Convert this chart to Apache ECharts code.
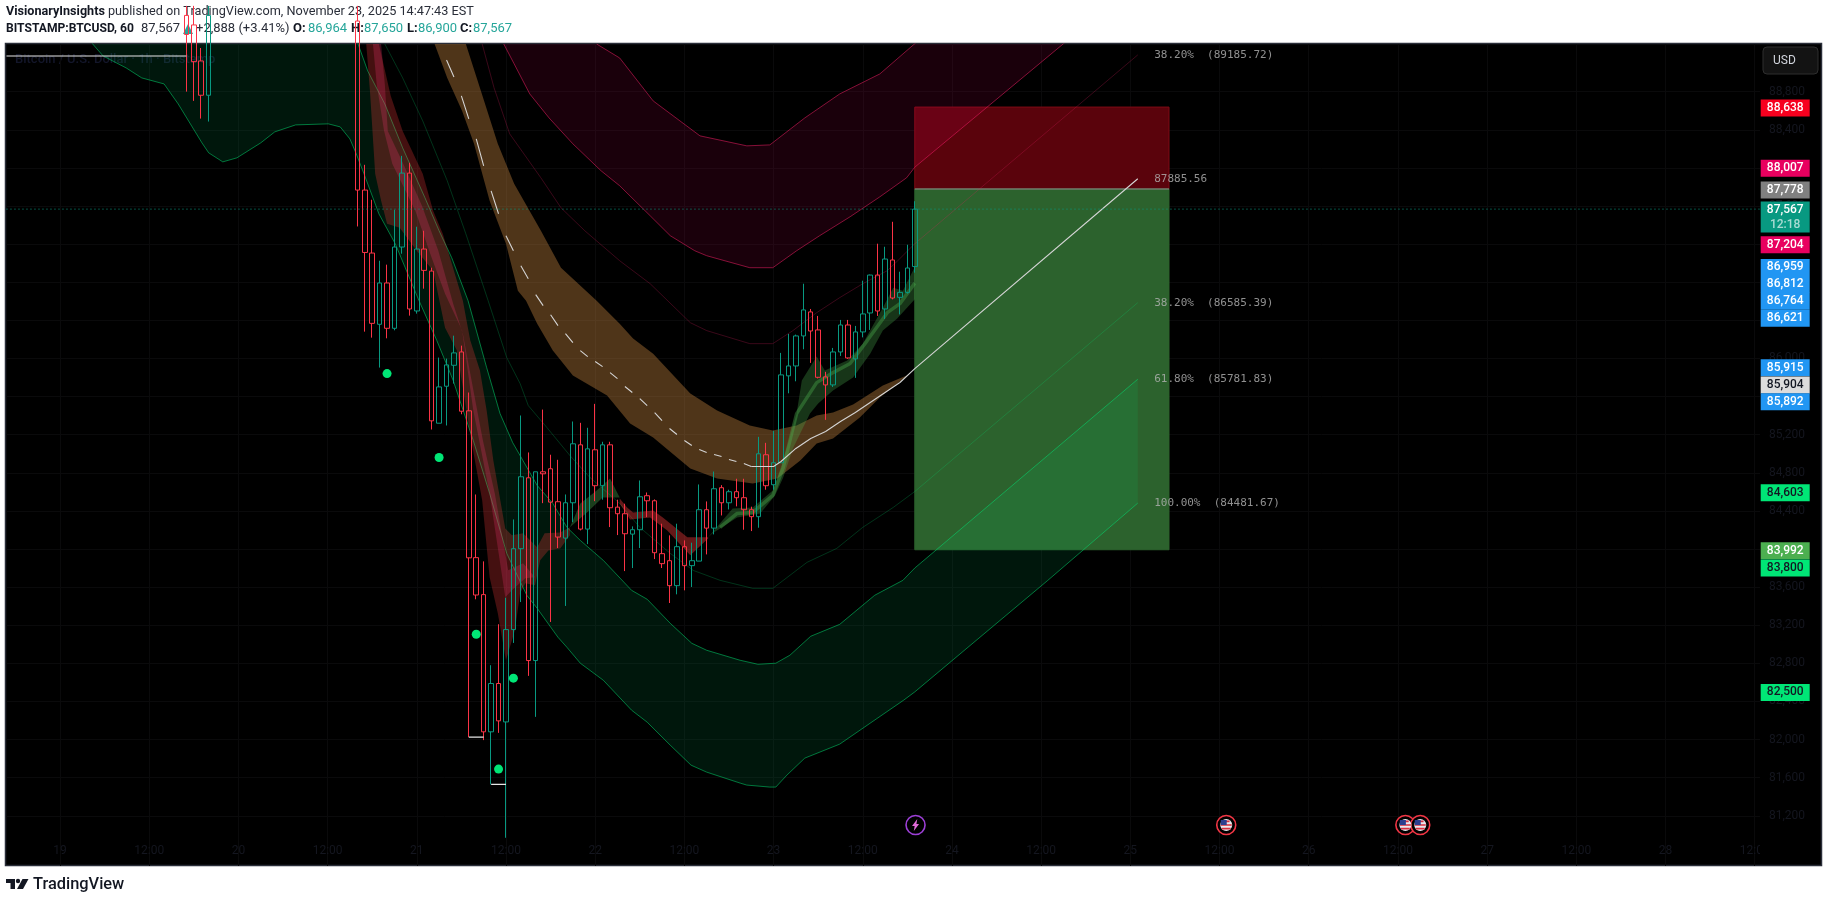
<!DOCTYPE html>
<html>
<head>
<meta charset="utf-8">
<title>BTCUSD</title>
<script src="https://cdn.jsdelivr.net/npm/echarts@6/dist/echarts.min.js"></script>
<style>
	html, body { margin: 0; padding: 0; background: #fff; }
	#main { width: 1829px; height: 903px; }
</style>
</head>
<body>
<div id="main"></div>
<script type="text/javascript">
// hours counted from Nov 19 00:00, one candle per hour
var xTickHours = [0, 12, 24, 36, 48, 60, 72, 84, 96, 108, 120, 132, 144, 156, 168, 180, 192, 204, 216, 228];
var xTickLabels = ['19', '12:00', '20', '12:00', '21', '12:00', '22', '12:00', '23', '12:00', '24', '12:00', '25', '12:00', '26', '12:00', '27', '12:00', '28', '12:00'];
var yTicks = [81200, 81600, 82000, 82400, 82800, 83200, 83600, 84000, 84400, 84800, 85200, 85600, 86000, 86400, 86800, 87200, 87600, 88000, 88400, 88800];

// hour, open, close, low, high
var candles = [
	[17, 89600, 89400, 88800, 89700], [18, 89500, 89115, 88703, 89700], [19, 89122, 88762, 88517, 89258], [20, 88762, 89600, 88486, 89700],
	[40, 89541, 87767, 87385, 89700], [41, 87767, 87112, 86281, 88032], [42, 87106, 86368, 86218, 87665], [43, 86358, 86792, 85904, 87025],
	[44, 86792, 86316, 86211, 86984], [45, 86316, 87169, 86295, 87560], [46, 87169, 87945, 87099, 88126], [47, 87945, 86519, 86449, 88053],
	[48, 86498, 87148, 86470, 87382], [49, 87148, 86924, 86732, 87340], [50, 86917, 85345, 85254, 86952], [51, 85320, 85701, 85320, 86009],
	[52, 85708, 85932, 85296, 85998], [53, 85928, 86058, 85736, 86239], [54, 86068, 85446, 85414, 86134], [55, 85450, 83907, 82025, 85642],
	[56, 83909, 83517, 83472, 84572], [57, 83521, 82081, 81994, 83870], [58, 82081, 82588, 81529, 82780], [59, 82588, 82196, 82070, 83210],
	[60, 82185, 83154, 80969, 83489], [61, 83154, 84003, 83014, 84310], [62, 84003, 84758, 83443, 85401], [63, 84747, 82829, 82668, 85013],
	[64, 82829, 84810, 82238, 84810], [65, 84810, 84789, 84481, 85463], [66, 84842, 84492, 83234, 84989], [67, 84496, 84125, 84010, 84936],
	[68, 84114, 84485, 83402, 84572], [69, 84485, 85104, 84282, 85338], [70, 85093, 84209, 84195, 85324], [71, 84209, 85051, 84051, 85272],
	[72, 85041, 84664, 84502, 85523], [73, 84664, 85093, 84517, 85125], [74, 85093, 84433, 84230, 85125], [75, 84439, 84370, 84146, 84517],
	[76, 84370, 84160, 83768, 84475], [77, 84156, 84202, 83800, 84237], [78, 84202, 84548, 84010, 84719], [79, 84559, 84506, 84334, 84593],
	[80, 84506, 83961, 83894, 84520], [81, 83951, 83846, 83800, 84265], [82, 83877, 83615, 83433, 84143], [83, 83615, 84024, 83524, 84265],
	[84, 84024, 83825, 83566, 84090], [85, 83825, 83877, 83601, 84066], [86, 83873, 84412, 83873, 84677], [87, 84412, 84219, 83943, 84499],
	[88, 84219, 84632, 84153, 84813], [89, 84643, 84485, 84352, 84670], [90, 84485, 84601, 84415, 84622], [91, 84601, 84538, 84447, 84737],
	[92, 84538, 84412, 84202, 84737], [93, 84412, 84339, 84188, 84444], [94, 84339, 84999, 84223, 85177], [95, 84989, 84664, 84622, 85114],
	[96, 84674, 84905, 84622, 85240], [97, 84905, 85827, 84905, 86058], [98, 85817, 85921, 85634, 86257], [99, 85921, 86236, 85760, 86250],
	[100, 86236, 86509, 86096, 86784], [101, 86488, 86288, 85953, 86519], [102, 86299, 85802, 85790, 86446], [103, 85806, 85722, 85355, 85859],
	[104, 85722, 86068, 85700, 86110], [105, 86068, 86351, 86026, 86404], [106, 86351, 86005, 85995, 86404], [107, 85995, 86278, 85796, 86341],
	[108, 86278, 86467, 86221, 86816], [109, 86477, 86875, 86299, 86880], [110, 86875, 86498, 86446, 87204], [111, 86519, 87043, 86414, 87172],
	[112, 87033, 86634, 86620, 87434], [113, 86641, 86693, 86462, 86910], [114, 86693, 86949, 86680, 87193], [115, 86964, 87567, 86900, 87650]
];

// lower (green) envelope
var greenOuter = [[3.4, 89436], [4.4, 89300], [5.8, 89174], [8.9, 89049], [11, 88944], [14, 88881], [15.9, 88671], [19.1, 88262], [20, 88158], [21.9, 88063], [23.8, 88105], [27, 88262], [28.9, 88378], [31.7, 88451], [36.1, 88462], [37.7, 88430], [39, 88304], [39.8, 88158], [40.9, 87937], [42.9, 87518], [45.1, 87204], [48.3, 86606], [50.7, 86187], [52.9, 85767], [55.6, 85138], [57.8, 84583], [60.1, 83954], [62.8, 83514], [64.2, 83377], [67, 83073], [68.2, 82968], [70, 82801], [73.1, 82622], [76.9, 82308], [79, 82182], [82.1, 81941], [84.9, 81731], [87, 81658], [91.5, 81543], [92.4, 81522], [95.5, 81501], [96.3, 81501], [97.8, 81627], [100.2, 81805], [104.9, 81952], [113.5, 82413], [115, 82500], [132.9, 83671], [145, 84481.67]];
var greenInner = [[39.3, 89489], [40.1, 89300], [41.4, 89017], [43.7, 88671], [46.1, 88210], [49.1, 87686], [51, 87340], [52.7, 87057], [54.9, 86606], [57.4, 85904], [59.2, 85421], [60.9, 85117], [64.2, 84667], [66.3, 84478], [68.2, 84227], [70, 84090], [73.1, 83880], [76.9, 83566], [79, 83472], [82.1, 83220], [85, 83010], [87, 82937], [91.5, 82832], [93.9, 82790], [96.3, 82801], [98.2, 82885], [101, 83084], [104.9, 83209], [109.6, 83514], [113.4, 83671], [115, 83800], [145, 85781.83]];
var greenMid = [[43.7, 89300], [46.1, 88944], [48.8, 88493], [52.1, 87864], [54.6, 87308], [57.6, 86606], [60.1, 86009], [61.9, 85736], [63, 85505], [65.5, 85275], [68.6, 84981], [71.3, 84750], [75.3, 84478], [78, 84227], [82.1, 83954], [85.2, 83775], [88.8, 83671], [93.2, 83587], [95.9, 83587], [100.5, 83860], [104.5, 84006], [108, 84227], [112.1, 84436], [115, 84603], [145, 86585.39]];

// upper (red) envelope
var redInner = [[59.7, 89300], [61.1, 89091], [63.2, 88776], [65.8, 88524], [69, 88252], [72.8, 87969], [75.3, 87812], [79.4, 87497], [82.1, 87288], [85.4, 87130], [87, 87078], [92.8, 86952], [95.9, 86952], [99.1, 87130], [102.2, 87288], [106.3, 87487], [110.3, 87696], [113.9, 87896], [115, 88007], [134.8, 89290], [145, 89971]];
var redOuter = [[72.2, 89300], [75.3, 89153], [79.8, 88703], [86.1, 88336], [92.4, 88231], [95.5, 88241], [100.2, 88524], [104.9, 88776], [110.3, 88986], [114.8, 89290], [117, 89436]];
var redMid = [[56.8, 89300], [58.4, 88839], [60.5, 88357], [64.7, 87895], [67.4, 87581], [70.6, 87340], [75.3, 87025], [79.4, 86784], [84.8, 86375], [87, 86292], [92.8, 86155], [95.9, 86155], [98.6, 86292], [101.8, 86480], [104.9, 86638], [108, 86784], [111.3, 86921], [112.7, 87025], [115, 87204], [145, 89185.72]];

// middle (brown) cloud
var brownUpper = [[54.6, 89300], [56.5, 88839], [58.9, 88252], [61.1, 87833], [64.7, 87340], [67.4, 86952], [72.2, 86606], [75.3, 86365], [77.1, 86208], [79.8, 86050], [84.8, 85631], [88.4, 85453], [92.8, 85296], [95.9, 85243], [99.1, 85296], [101.8, 85401], [104, 85432], [106.7, 85516], [110.7, 85715], [113.9, 85820]];
var brownLower = [[50.4, 89300], [52.1, 88944], [54.1, 88598], [55.7, 88252], [57.8, 87654], [60, 87204], [61.6, 86711], [62.7, 86606], [64.2, 86365], [66.3, 86082], [69, 85820], [73.6, 85610], [76.7, 85317], [79.8, 85170], [84.8, 84845], [88.4, 84740], [93.2, 84688], [96.5, 84740], [99.6, 84929], [101.8, 85107], [104, 85160], [107.6, 85380], [110.3, 85589], [114, 85820]];

// ribbons around the price
var ribbonUp = [[42.9, 89300], [44.5, 88755], [46.1, 88388], [48.8, 87937], [50.2, 87550], [51.5, 87308], [53.4, 86816], [54.2, 86606], [55.2, 86187], [56.5, 85872], [57.4, 85453], [58.3, 84929], [59.9, 84216], [60.8, 84143], [62.3, 84164], [64.2, 84017], [65.2, 84164], [67.3, 84174], [68.6, 84227]];
var ribbonLow = [[41.2, 89300], [41.7, 88808], [42.4, 87937], [43.2, 87654], [44, 87413], [45.7, 87371], [48, 87130], [50.2, 86921], [51.8, 86323], [53.4, 86082], [55.4, 85107], [56.8, 84509], [57.8, 83702], [58.9, 83325], [60, 82832], [61.2, 83147], [61.9, 83535], [62.6, 83640], [63.9, 83618], [64.6, 83881], [65.7, 83985], [67.3, 84006], [68.6, 84143]];
var pinkUp = [[43.2, 89300], [43.7, 88881], [44.1, 88388], [46, 88074], [48.7, 87602], [50.9, 87130], [52.9, 86575], [54.2, 86260], [55.8, 85589], [56.9, 85138], [58.5, 84583], [60.3, 83776], [62.3, 83849], [63.9, 83702]];
var pinkLow = [[42.1, 89300], [42.6, 88881], [43.6, 88388], [44.7, 88042], [47.8, 87550], [50, 87057], [51.8, 86679], [54.1, 86292], [55.6, 85453], [57.8, 84583], [59.9, 83493], [60.8, 83566], [62.6, 83692], [63.9, 83702]];
var humpUp = [[68.6, 84227], [70, 84478], [72.2, 84614], [74, 84740], [75.3, 84541]];
var humpLow = [[68.6, 84227], [70.9, 84384], [73, 84541], [74.9, 84541], [75.3, 84541]];
var redTailUp = [[75.3, 84530], [76.3, 84436], [77.1, 84384], [79.8, 84405], [81.1, 84331], [84.4, 84122], [87.2, 84122]];
var redTailLow = [[75.3, 84478], [76.7, 84310], [79.4, 84331], [81.7, 84195], [84.8, 83933], [87.2, 84111]];
var greenRibbonUp = [[87.2, 84122], [90.5, 84426], [93.2, 84436], [95.9, 84614], [97.3, 84929], [99.1, 85421], [99.8, 85767], [101.8, 86019], [102.9, 85872], [105.9, 85977], [108, 86155], [110.7, 86533], [112.1, 86742], [113.4, 86711], [115, 86959]];
var greenRibbonLow = [[87.2, 84122], [87.8, 84164], [91.1, 84331], [94.2, 84373], [96.2, 84562], [97.3, 84751], [98.6, 85055], [100.9, 85421], [102, 85526], [104, 85663], [106.7, 85799], [109, 86050], [110.7, 86292], [112.6, 86417], [115, 86621]];
var greenRibbonMid = [[88.8, 84227], [91.1, 84373], [93.2, 84384], [95.9, 84562], [97.3, 84855], [99.1, 85421], [101.8, 85746], [104, 85851], [106.3, 85946], [108.6, 86187], [111.3, 86480], [113, 86575], [115, 86790]];

// centre line: dashed part has one reading per bar, then it goes solid
var midDashed = [[52, 89133], [53, 88954], [54, 88755], [55, 88514], [56, 88304], [57, 88021], [58, 87759], [59, 87518], [60, 87287], [61, 87130], [62, 86973], [63, 86837], [64, 86669], [65, 86554], [66, 86459], [67, 86344], [68, 86260], [69, 86166], [70, 86082], [71, 86019], [72, 85967], [73, 85914], [74, 85851], [75, 85788], [76, 85705], [77, 85642], [78, 85579], [79, 85505], [80, 85432], [81, 85348], [82, 85264], [83, 85201], [84, 85138], [85, 85086], [86, 85044], [87, 85013], [88, 84992], [89, 84971], [90, 84939], [91, 84918], [92, 84897], [93, 84866]];
var midSolid = [[93, 84866], [96, 84866], [97, 84918], [99, 85055], [101, 85160], [103, 85233], [105, 85338], [107, 85432], [109, 85537], [111, 85642], [113, 85747], [115, 85893], [145, 87885.56]];

// position box
var boxHours = [115, 149.2];
var boxStop = 88638;
var boxEntry = 87778;
var boxTarget = 83992;

var lastPrice = 87567;
var lowMarks = [[[-7.2, 89174], [17, 89174]], [[55, 82025], [57, 82025]], [[58, 81529], [60, 81529]]];
var dots = [[44, 85841], [51, 84960], [56, 83105], [61, 82644], [59, 81690]];
var flagHours = [156.9, 181, 183];
var boltHour = 115.1;
var eventPrice = 81103;

var fibHour = 147.2;
var fibLabels = [
	[89185.72, '38.20%  (89185.72)'],
	[87885.56, '87885.56'],
	[86585.39, '38.20%  (86585.39)'],
	[85781.83, '61.80%  (85781.83)'],
	[84481.67, '100.00%  (84481.67)']
];

// tags on the price scale: shown position, text, background, text colour
var tagHour = 232.1;
var tagPositions = [88629, 87997, 87767, 87193, 86955, 86777, 86599, 86421, 85901, 85722, 85544, 84590, 83982, 83800, 82494];
var tagTexts = ['88,638', '88,007', '87,778', '87,204', '86,959', '86,812', '86,764', '86,621', '85,915', '85,904', '85,892', '84,603', '83,992', '83,800', '82,500'];
var tagColors = ['#f7001f', '#e8005f', '#808080', '#e8005f', '#2196f3', '#2196f3', '#2196f3', '#2196f3', '#2196f3', '#dcdcdc', '#2196f3', '#00e676', '#4caf50', '#00e676', '#00e676'];
var tagTextColors = ['#fff', '#fff', '#fff', '#fff', '#fff', '#fff', '#fff', '#fff', '#fff', '#131722', '#fff', '#131722', '#fff', '#131722', '#131722'];

var FONT = 'Roboto, "Noto Sans", sans-serif';
var TEAL = '#089981';
var RED = '#fb3346';

function polySeries(edgeA, edgeB, fill, stroke, z) {
	return {
		type: 'custom', z: z, clip: true, silent: true, data: [[0, 85000]],
		encode: { x: 0, y: 1 },
		renderItem: function (params, api) {
			var pts = edgeA.concat(edgeB.slice().reverse()).map(function (p) { return api.coord(p); });
			return { type: 'polygon', shape: { points: pts }, style: { fill: fill, stroke: stroke || 'none', lineWidth: 1 } };
		}
	};
}

function lineSeries(data, color, width, z, type) {
	return {
		type: 'line', data: data, z: z, silent: true, showSymbol: false, symbol: 'none', animation: false,
		lineStyle: { color: color, width: width, type: type || 'solid' }
	};
}

// one dash per bar, skipping the next bar
var midDashes = [];
for (var i = 0; i + 1 < midDashed.length; i += 2) {
	midDashes.push(midDashed[i], midDashed[i + 1], [midDashed[i][0] + 1.5, '-']);
}

var tagData = tagTexts.map(function (t, i) {
	return {
		value: [tagHour, tagPositions[i]],
		itemStyle: { color: tagColors[i], opacity: 1 },
		label: { formatter: t, color: tagTextColors[i] }
	};
});
// the last price tag is taller because it also holds the countdown
tagData.push({
	value: [tagHour, 87483],
	symbolSize: [49, 31],
	itemStyle: { color: TEAL, opacity: 1 },
	label: {
		formatter: '{a|87,567}\n{b|12:18}',
		rich: {
			a: { color: '#fff', fontFamily: FONT, fontSize: 12, fontWeight: 500, lineHeight: 15 },
			b: { color: 'rgba(255,255,255,0.65)', fontFamily: FONT, fontSize: 12, fontWeight: 500, lineHeight: 15 }
		}
	}
});

var flagPoints = flagHours.map(function (h) { return [h, eventPrice]; });

var series = [
	// the box sits under everything else
	polySeries([[boxHours[0], boxStop], [boxHours[1], boxStop]], [[boxHours[0], boxEntry], [boxHours[1], boxEntry]], '#5a030c', '#7e0a14', 2),
	polySeries([[boxHours[0], boxEntry], [boxHours[1], boxEntry]], [[boxHours[0], boxTarget], [boxHours[1], boxTarget]], '#2c622d', '#2c622d', 2),
	lineSeries([[boxHours[0], boxEntry], [boxHours[1], boxEntry]], '#8c8c8c', 1, 3),

	polySeries(redInner, redOuter, 'rgba(233,0,99,0.11)', null, 4),
	polySeries(greenOuter, greenInner, 'rgba(0,230,118,0.1)', null, 4),
	polySeries(brownUpper, brownLower, 'rgba(255,171,80,0.31)', null, 5),

	lineSeries(redInner, 'rgba(233,30,99,0.55)', 1, 6),
	lineSeries(redOuter, 'rgba(233,30,99,0.55)', 1, 6),
	lineSeries(redMid, 'rgba(233,30,99,0.25)', 1, 6),
	lineSeries(greenOuter, 'rgba(0,230,118,0.5)', 1, 6),
	lineSeries(greenInner, 'rgba(0,230,118,0.5)', 1, 6),
	lineSeries(greenMid, 'rgba(0,230,118,0.22)', 1, 6),

	polySeries(ribbonUp, ribbonLow, 'rgba(250,60,60,0.27)', null, 7),
	polySeries(pinkUp, pinkLow, 'rgba(240,50,110,0.25)', null, 8),
	polySeries(redTailUp, redTailLow, 'rgba(250,60,60,0.4)', null, 7),
	polySeries(humpUp, humpLow, 'rgba(76,175,80,0.35)', null, 7),
	polySeries(greenRibbonUp, greenRibbonLow, 'rgba(76,175,80,0.3)', null, 7),
	lineSeries(greenRibbonMid, 'rgba(76,175,80,0.38)', 3.5, 8),

	{
		type: 'candlestick', z: 10, silent: true, clip: true, animation: false, barWidth: 5,
		data: candles,
		encode: { x: 0, y: [1, 2, 3, 4] },
		itemStyle: { color: 'transparent', color0: 'transparent', borderColor: TEAL, borderColor0: RED, borderWidth: 1 }
	},

	lineSeries(lowMarks[0], '#e6e6e6', 1.2, 11),
	lineSeries(lowMarks[1], '#e6e6e6', 1.2, 11),
	lineSeries(lowMarks[2], '#e6e6e6', 1.2, 11),
	lineSeries(midDashes, '#d4d4d4', 1.1, 12),
	lineSeries(midSolid, '#d4d4d4', 1.1, 12),
	lineSeries([[-7.2, lastPrice], [228.7, lastPrice]], TEAL, 1, 12, [1, 3]),

	{
		type: 'scatter', z: 13, silent: true, symbolSize: 9, data: dots,
		itemStyle: { color: '#00e676', opacity: 1 }
	},
	{
		type: 'scatter', z: 13, silent: true, symbolSize: 0,
		data: fibLabels.map(function (f) { return [fibHour, f[0], f[1]]; }),
		label: {
			show: true, position: 'right', distance: 0,
			fontFamily: '"DejaVu Sans Mono", monospace', fontSize: 11, color: '#b4b4b4',
			formatter: function (p) { return p.value[2]; }
		},
		labelLayout: { hideOverlap: false }
	},

	// calendar markers along the bottom: ring, white disc, stripes, canton
	{
		type: 'scatter', z: 13, silent: true, symbolSize: 19, data: flagPoints,
		itemStyle: { color: '#000', borderColor: '#f23645', borderWidth: 1.6, opacity: 1 }
	},
	{
		type: 'scatter', z: 14, silent: true, symbolSize: 12, data: flagPoints,
		itemStyle: { color: '#e8e8ee', opacity: 1 }
	},
	{
		type: 'scatter', z: 15, silent: true, symbolSize: [11, 9],
		symbol: 'path://M3 0 H9 V1.6 H3 Z M1 3.6 H11 V5.2 H1 Z M2 7.2 H10 V8.8 H2 Z',
		symbolKeepAspect: false, data: flagPoints,
		itemStyle: { color: '#d8303f', opacity: 1 }
	},
	{
		type: 'scatter', z: 16, silent: true, symbol: 'rect', symbolSize: [6, 5], symbolOffset: [-2.5, -2.5], data: flagPoints,
		itemStyle: { color: '#2b3f8f', opacity: 1 }
	},
	{
		type: 'scatter', z: 13, silent: true, symbolSize: 19,
		data: [[boltHour, eventPrice]],
		itemStyle: { color: '#000', borderColor: '#9c3fd6', borderWidth: 1.6, opacity: 1 }
	},
	{
		type: 'scatter', z: 14, silent: true, symbolSize: [7, 12],
		symbol: 'path://M6 0 L0 7 L3 7 L2 12 L8 5 L5 5 Z',
		data: [[boltHour, eventPrice]],
		itemStyle: { color: '#e26ad9', opacity: 1 }
	},

	// tags drawn past the end of the time scale, on the price scale
	{
		type: 'scatter', z: 20, silent: true, clip: false, symbol: 'rect', symbolSize: [49, 17],
		data: tagData,
		label: { show: true, position: 'inside', fontFamily: FONT, fontSize: 12, fontWeight: 500 },
		labelLayout: { hideOverlap: false }
	}
];

function headText(x, y, text, color, weight, size) {
	return {
		type: 'text', x: x, y: y, z: 2,
		style: { text: text, fill: color, font: (weight || 'normal') + ' ' + (size || 13) + 'px ' + FONT, textVerticalAlign: 'middle' }
	};
}

var DARK = '#131722';
var HEADER_TEAL = '#26a69a';

var graphics = [
	// black panel behind the grid and the price scale
	{ type: 'rect', z: -1, shape: { x: 5.5, y: 43.5, width: 1816, height: 822 }, style: { fill: '#000', stroke: '#2a2e39', lineWidth: 1.5 } },
	{
		type: 'text', x: 15, y: 60, z: 0,
		style: { text: 'Bitcoin / U.S. Dollar · 1h · Bitstamp', fill: '#13162a', font: '500 13px ' + FONT, textVerticalAlign: 'middle' }
	},
	// cuts the last time label at the edge of the price scale
	{ type: 'rect', z: 1, shape: { x: 1760, y: 842, width: 60, height: 22 }, style: { fill: '#000' } },
	{ type: 'rect', z: 3, shape: { x: 1763, y: 47, width: 55, height: 27, r: 4 }, style: { fill: '#131313', stroke: '#2e2e2e' } },
	{ type: 'text', x: 1773, y: 61, z: 4, style: { text: 'USD', fill: '#d1d4dc', font: '12px ' + FONT, textVerticalAlign: 'middle' } },

	headText(6, 12, 'VisionaryInsights', DARK, 'bold', 12.6),
	headText(108, 12, 'published on TradingView.com, November 23, 2025 14:47:43 EST', '#2a2e39', 'normal', 12.7),
	headText(6, 29, 'BITSTAMP:BTCUSD, 60', DARK, 'bold', 12.1),
	headText(141, 29, '87,567', '#2a2e39'),
	{ type: 'polygon', z: 2, shape: { points: [[183, 34], [193, 34], [188, 24]] }, style: { fill: HEADER_TEAL } },
	headText(196, 29, '+2,888 (+3.41%)', '#2a2e39'),
	headText(293, 29, 'O:', DARK, 'bold'),
	headText(308, 29, '86,964', HEADER_TEAL),
	headText(351, 29, 'H:', DARK, 'bold'),
	headText(364, 29, '87,650', HEADER_TEAL),
	headText(407, 29, 'L:', DARK, 'bold'),
	headText(418, 29, '86,900', HEADER_TEAL),
	headText(460, 29, 'C:', DARK, 'bold'),
	headText(473, 29, '87,567', HEADER_TEAL),

	// logo
	{ type: 'polygon', z: 2, shape: { points: [[6, 879], [15, 879], [15, 889], [10.5, 889], [10.5, 883], [6, 883]] }, style: { fill: DARK } },
	{ type: 'circle', z: 2, shape: { cx: 18, cy: 881, r: 2.2 }, style: { fill: DARK } },
	{ type: 'polygon', z: 2, shape: { points: [[22.5, 879], [28.5, 879], [23, 889], [17, 889]] }, style: { fill: DARK } },
	{ type: 'text', x: 33, y: 885, z: 2, style: { text: 'TradingView', fill: DARK, font: '500 16.4px ' + FONT, textVerticalAlign: 'middle' } }
];

var chart = echarts.init(document.getElementById('main'));
chart.setOption({
	backgroundColor: '#fff',
	animation: false,
	grid: { left: 6, top: 44, width: 1754, height: 822 },
	xAxis: {
		type: 'value', min: -7.265, max: 228.71, scale: true,
		axisLine: { show: false },
		axisTick: { show: false, customValues: xTickHours },
		axisLabel: {
			inside: true, margin: 9, color: '#14161f', fontFamily: FONT, fontSize: 12,
			customValues: xTickHours,
			formatter: function (v) { return xTickLabels[xTickHours.indexOf(v)]; }
		},
		splitLine: { show: true, lineStyle: { color: '#0a0a0b', width: 1 } }
	},
	yAxis: {
		type: 'value', position: 'right', min: 80672.7, max: 89300, scale: true,
		axisLine: { show: false },
		axisTick: { show: false, customValues: yTicks },
		axisLabel: {
			margin: 9, color: '#14161f', fontFamily: FONT, fontSize: 12,
			customValues: yTicks,
			formatter: function (v) { return v.toLocaleString('en-US'); }
		},
		splitLine: { show: true, lineStyle: { color: '#0a0a0b', width: 1 } }
	},
	graphic: { elements: graphics },
	series: series
});
</script>
</body>
</html>
